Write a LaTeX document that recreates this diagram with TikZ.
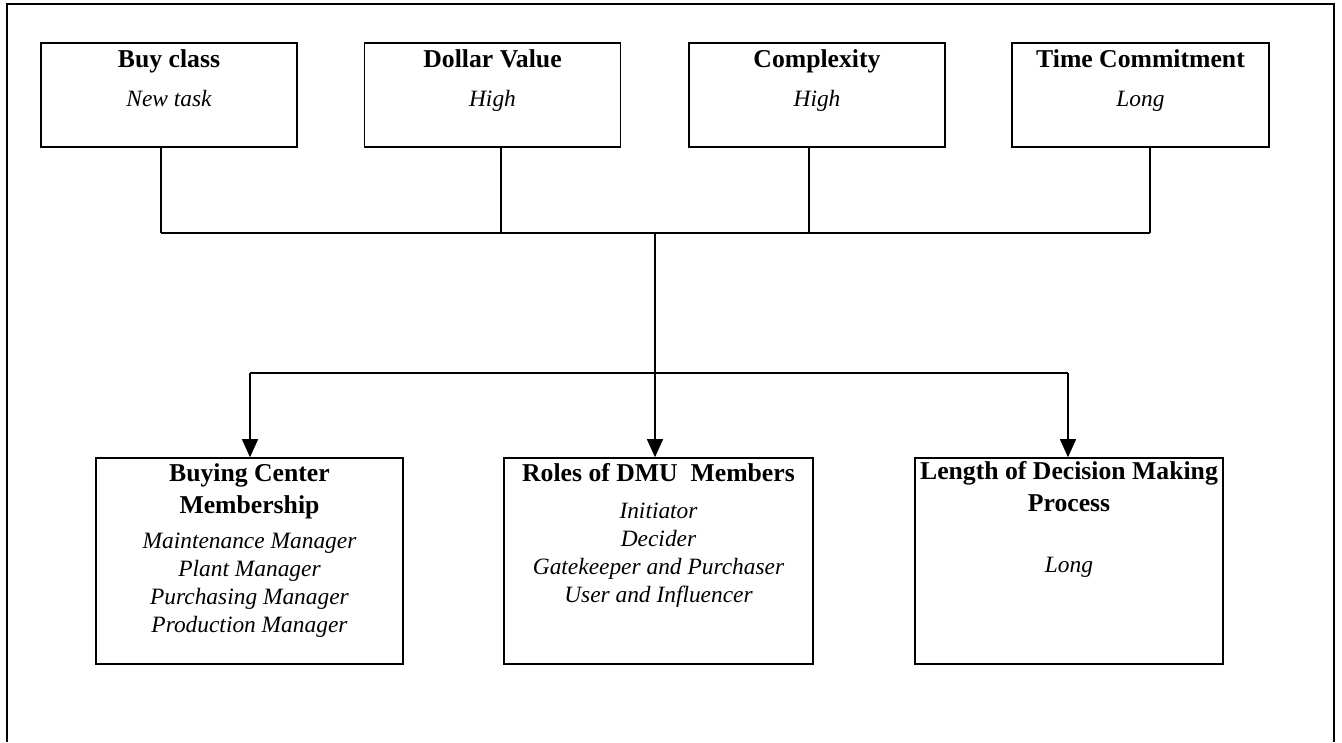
\documentclass[tikz,border=0pt]{standalone}
\usepackage{fontspec}
\setmainfont{Liberation Serif}
\usetikzlibrary{arrows.meta}
\begin{document}
\begin{tikzpicture}[x=1pt,y=-1pt,
  box/.style={draw,line width=1.6pt,inner sep=0pt},
  ttl/.style={anchor=base,font=\bfseries\fontsize{25.7}{31.5}\selectfont,align=center,inner sep=0pt},
  itl/.style={anchor=base,font=\itshape\fontsize{23.4}{27.7}\selectfont,align=center,inner sep=0pt},
  ln/.style={line width=1.3pt},
  arr/.style={line width=1.3pt,-{Triangle[length=18pt,width=16pt]}}]
\useasboundingbox (0,0) rectangle (1342,742);
% outer frame
\draw[line width=1.4pt] (7,742) -- (7,4) -- (1334,4) -- (1334,742);
% top boxes
\node[box,minimum width=256pt,minimum height=104pt] (b1) at (169,95) {};
\node[box,minimum width=256pt,minimum height=104pt] (b2) at (492.5,95) {};
\node[box,minimum width=256pt,minimum height=104pt] (b3) at (817,95) {};
\node[box,minimum width=257pt,minimum height=104pt] (b4) at (1140.5,95) {};
\node[ttl] (t1) at (169,67) {Buy class};
\node[itl] (s1) at (169,106) {New task};
\node[ttl] (t2) at (492.5,67) {Dollar Value};
\node[itl] (s2) at (492.5,106) {High};
\node[ttl] (t3) at (817,67) {Complexity};
\node[itl] (s3) at (817,106) {High};
\node[ttl] (t4) at (1140.5,67) {Time Commitment};
\node[itl] (s4) at (1140.5,106) {Long};
% bottom boxes
\node[box,minimum width=307pt,minimum height=206pt] (bA) at (249.5,561) {};
\node[box,minimum width=309pt,minimum height=206pt] (bB) at (658.5,561) {};
\node[box,minimum width=308pt,minimum height=206pt] (bC) at (1069,561) {};
% multi-line nodes: base anchor is the baseline of the last line
\node[ttl] (tA) at (249.5,513) {Buying Center\\Membership};
\node[itl] (sA) at (249.5,632) {Maintenance Manager\\Plant Manager\\Purchasing Manager\\Production Manager};
\node[ttl] (tB) at (658.5,481) {Roles of DMU\ \ Members};
\node[itl] (sB) at (658.5,602) {Initiator\\Decider\\Gatekeeper and Purchaser\\User and Influencer};
\node[ttl] (tC) at (1069,511) {Length of Decision Making\\Process};
\node[itl] (sC) at (1069,572) {Long};
% connectors
\coordinate (j1) at (161,233);
\coordinate (j2) at (501,233);
\coordinate (j3) at (809,233);
\coordinate (j4) at (1150,233);
\coordinate (jc) at (655,233);
\coordinate (sL) at (250,373);
\coordinate (sR) at (1068,373);
\draw[ln] (j1 |- b1.south) -- (j1);
\draw[ln] (j2 |- b2.south) -- (j2);
\draw[ln] (j3 |- b3.south) -- (j3);
\draw[ln] (j4 |- b4.south) -- (j4);
\draw[ln] (j1) -- (j4);
\draw[arr] (jc) -- (jc |- bB.north);
\draw[ln] (sL) -- (sR);
\draw[arr] (sL) -- (sL |- bA.north);
\draw[arr] (sR) -- (sR |- bC.north);
\end{tikzpicture}
\end{document}
